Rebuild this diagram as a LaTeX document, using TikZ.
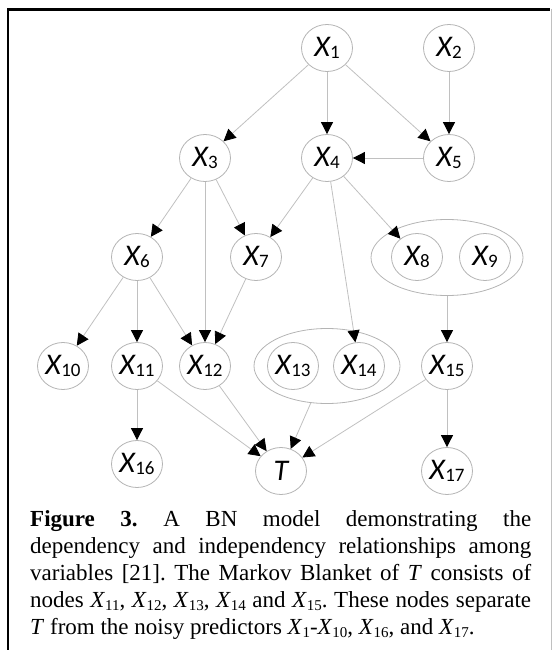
\documentclass[tikz,border=0pt]{standalone}
\usepackage{fontspec}
\setmainfont{Liberation Serif}
\newfontfamily\nodefont{Carlito}
\usetikzlibrary{arrows.meta,shapes.geometric}
\definecolor{edgegray}{RGB}{192,192,192}
\definecolor{nodegray}{RGB}{180,180,180}
\newcommand\nx[1]{{\nodefont\fontsize{30}{30}\selectfont\itshape X\kern0.3pt\raisebox{-2pt}{\upshape\fontsize{19}{19}\selectfont #1}}}
\newcommand\cx[1]{\textit{X}\raisebox{-3pt}{\fontsize{15}{15}\selectfont #1}}
\begin{document}
\begin{tikzpicture}[x=1pt,y=-1pt,
  bn/.style={ellipse, draw=nodegray, line width=0.8pt, minimum width=51pt, minimum height=47pt, inner sep=0pt, fill=white},
  grp/.style={ellipse, draw=nodegray, line width=0.8pt, inner sep=0pt},
  edge/.style={draw=edgegray, line width=0.8pt, -{Triangle[length=12pt,width=12pt,color=black]}},
  capline/.style={anchor=base west, inner sep=0pt, font=\fontsize{23}{27}\selectfont\frenchspacing}]
\useasboundingbox (0,0) rectangle (552,650);
% frame
\draw[line width=2.4pt] (8,650) -- (8,9.5) -- (550,9.5);
\draw[edgegray, line width=0.8pt] (551,9) -- (551,650);
% groups
\node[grp, minimum width=152pt, minimum height=76pt] (g89) at (447,257.5) {};
\node[grp, minimum width=146pt, minimum height=75pt] (g1314) at (327,366) {};
% nodes
\node[bn] (x1) at (327,48) {\nx{1}};
\node[bn] (x2) at (449,48) {\nx{2}};
\node[bn] (x3) at (205,158) {\nx{3}};
\node[bn] (x4) at (327,158) {\nx{4}};
\node[bn] (x5) at (449,158) {\nx{5}};
\node[bn] (x6) at (137,257) {\nx{6}};
\node[bn] (x7) at (256,257) {\nx{7}};
\node[bn] (x8) at (417,257) {\nx{8}};
\node[bn] (x9) at (485,257) {\nx{9}};
\node[bn] (x10) at (63,366) {\nx{10}};
\node[bn] (x11) at (137,366) {\nx{11}};
\node[bn] (x12) at (205,366) {\nx{12}};
\node[bn] (x13) at (293,366) {\nx{13}};
\node[bn] (x14) at (359,366) {\nx{14}};
\node[bn] (x15) at (447,366) {\nx{15}};
\node[bn] (x16) at (137,464) {\nx{16}};
\node[bn] (t) at (281,471) {{\nodefont\fontsize{30}{30}\selectfont\itshape T}};
\node[bn] (x17) at (447,471) {\nx{17}};
% edges
\draw[edge] (x1) -- (x3);
\draw[edge] (x1) -- (x4);
\draw[edge] (x1) -- (x5);
\draw[edge] (x2) -- (x5);
\draw[edge] (x5) -- (x4);
\draw[edge] (x3) -- (x6);
\draw[edge] (x3) -- (x12);
\draw[edge] (x3) -- (x7);
\draw[edge] (x4) -- (x7);
\draw[edge] (x4) -- (x14);
\draw[edge] (x4) -- (x8);
\draw[edge] (x6) -- (x10);
\draw[edge] (x6) -- (x11);
\draw[edge] (x6) -- (x12);
\draw[edge] (x7) -- (x12);
\draw[edge] (g89) -- (x15);
\draw[edge] (x11) -- (x16);
\draw[edge] (x11) -- (t);
\draw[edge] (x12) -- (t);
\draw[edge] (g1314) -- (t);
\draw[edge] (x15) -- (t);
\draw[edge] (x15) -- (x17);
% caption
\node[capline] (c1) at (30,526) {\makebox[501pt][s]{\textbf{Figure 3.} A BN model demonstrating the}};
\node[capline] (c2) at (30,553.2) {\makebox[501pt][s]{dependency and independency relationships among}};
\node[capline] (c3) at (30,580.4) {\makebox[501pt][s]{variables [21]. The Markov Blanket of \textit{T} consists of}};
\node[capline] (c4) at (30,607.6) {\makebox[501pt][s]{nodes \cx{11}, \cx{12}, \cx{13}, \cx{14} and \cx{15}. These nodes separate}};
\node[capline] (c5) at (30,634.8) {\textit{T} from the noisy predictors \cx{1}-\cx{10}, \cx{16}, and \cx{17}.};
\end{tikzpicture}
\end{document}
